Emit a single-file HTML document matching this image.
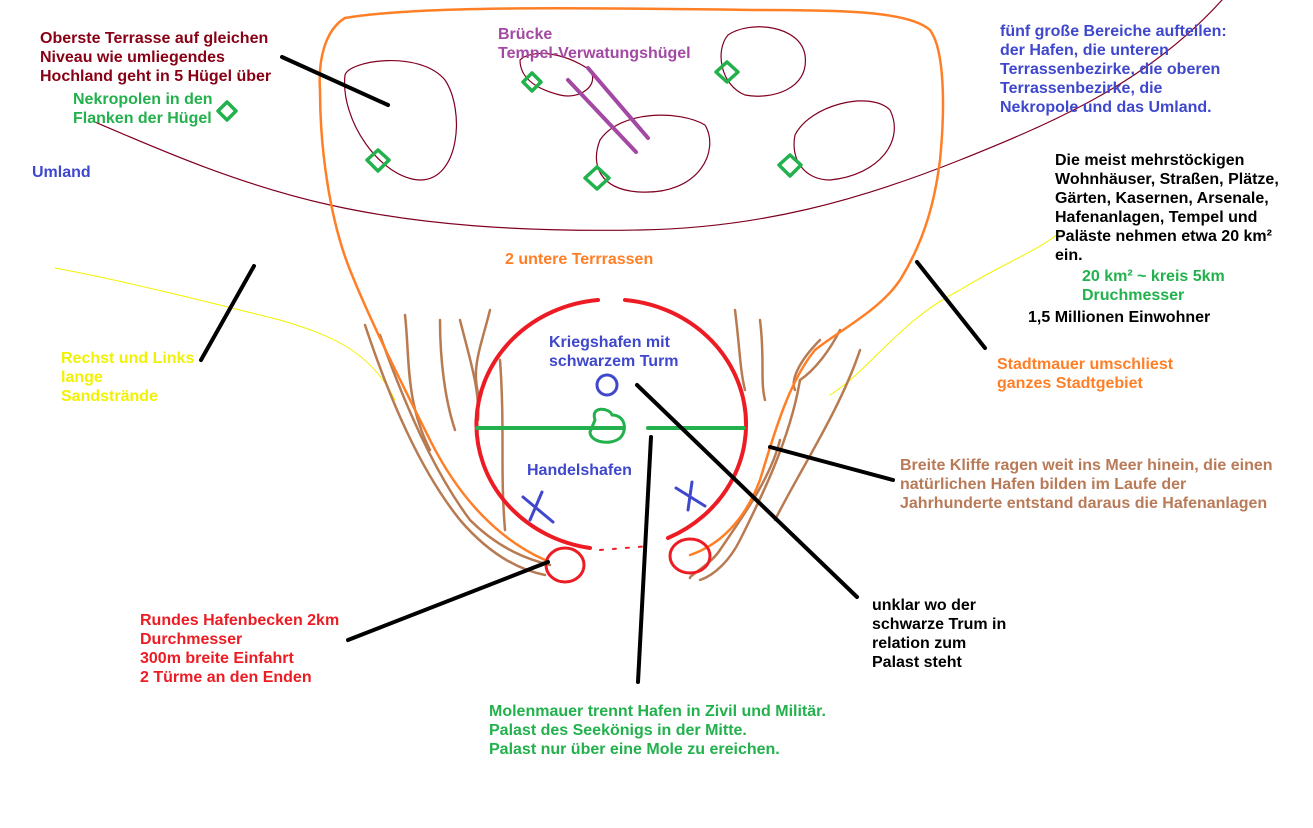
<!DOCTYPE html>
<html><head><meta charset="utf-8"><style>
html,body{margin:0;padding:0;background:#fff;}
#c{position:relative;width:1313px;height:828px;overflow:hidden;}
svg{position:absolute;left:0;top:0;}
.t{position:absolute;font-family:"Liberation Sans",Arial,sans-serif;font-weight:bold;font-size:16px;line-height:19px;white-space:nowrap;}
</style></head><body><div id="c">
<svg width="1313" height="828" viewBox="0 0 1313 828" fill="none" stroke-linecap="round" stroke-linejoin="round">
<path d="M95,122 C160,150 240,185 330,205 C420,225 520,232 640,230 C760,228 860,200 960,160 C1060,120 1150,80 1222,0" stroke="#800020" stroke-width="1.2"/>
<path d="M345,75 C350,60 420,50 445,80 C465,110 460,180 420,180 C380,178 340,120 345,75Z" stroke="#800020" stroke-width="1.2"/>
<path d="M520,60 C530,50 560,50 590,70 C600,85 580,100 560,95 C540,90 520,80 520,60Z" stroke="#800020" stroke-width="1.2"/>
<path d="M600,140 C620,110 680,110 705,125 C720,150 700,195 640,192 C600,190 590,165 600,140Z" stroke="#800020" stroke-width="1.2"/>
<path d="M728,35 C750,20 800,25 805,55 C810,90 770,100 745,95 C720,85 715,50 728,35Z" stroke="#800020" stroke-width="1.2"/>
<path d="M795,135 C810,105 870,90 890,110 C905,140 880,175 830,180 C805,180 790,160 795,135Z" stroke="#800020" stroke-width="1.2"/>
<path d="M55,268 C120,280 200,300 280,320 C330,335 370,350 395,400" stroke="#f2f200" stroke-width="1"/>
<path d="M830,395 C870,370 900,320 960,290 C1000,265 1040,250 1060,232" stroke="#f2f200" stroke-width="1"/>
<g stroke="#b87a50" stroke-width="2.5">
<path d="M365,325 C390,400 420,470 460,520 C490,555 520,570 545,575"/>
<path d="M380,335 C410,420 440,480 470,520 C500,550 530,560 550,565"/>
<path d="M405,315 C410,360 405,400 430,450"/>
<path d="M440,320 C440,360 445,400 455,430"/>
<path d="M460,320 C470,360 480,390 478,420"/>
<path d="M490,310 C480,350 470,370 480,400"/>
<path d="M500,360 C505,430 500,470 505,530"/>
<path d="M735,310 C740,350 740,370 745,390"/>
<path d="M760,320 C765,360 760,380 765,400"/>
<path d="M780,440 C770,480 740,520 720,550 C710,565 690,575 690,578"/>
<path d="M800,380 C790,440 760,500 740,540 C730,560 715,575 700,580"/>
<path d="M820,340 C800,360 790,380 795,390"/>
<path d="M840,330 C830,350 815,370 800,380"/>
<path d="M860,350 C840,410 800,470 775,520"/>
</g>
<path d="M545,560 C500,540 460,500 430,440 C400,380 370,320 350,270 C330,220 320,150 320,90 C318,60 325,30 345,18 C420,5 600,8 760,10 C850,10 910,12 930,30 C945,50 945,110 940,160 C935,200 925,240 900,280 C880,310 840,330 815,350 C790,380 775,430 760,480 C745,520 720,545 690,555" stroke="#ff7f27" stroke-width="2.5"/>
<path d="M598,300 A134,125 0 0,0 590,548" stroke="#ed1c24" stroke-width="4"/>
<path d="M625,300 A134,125 0 0,1 668,538" stroke="#ed1c24" stroke-width="4"/>
<path d="M600,550 L650,546" stroke="#ed1c24" stroke-width="2" stroke-dasharray="3,10"/>
<ellipse cx="565" cy="565" rx="19" ry="17" stroke="#ed1c24" stroke-width="3"/>
<ellipse cx="690" cy="556" rx="20" ry="17" stroke="#ed1c24" stroke-width="3"/>
<path d="M477,428 L622,428 M648,428 L744,428" stroke="#22b14c" stroke-width="4"/>
<path d="M595,420 C590,405 610,408 612,415 C625,415 628,430 620,438 C610,446 590,442 590,432 Z" stroke="#22b14c" stroke-width="3"/>
<circle cx="607" cy="385" r="10" stroke="#3f48cc" stroke-width="3"/>
<path d="M523,497 L553,522 M542,492 L530,520 M676,488 L705,506 M692,482 L688,510" stroke="#3f48cc" stroke-width="3"/>
<path d="M588,68 L648,138 M568,80 L636,152" stroke="#a349a4" stroke-width="4"/>
<g stroke="#22b14c" stroke-width="3.5">
<path d="M227,102 L236,111 L227,120 L218,111Z"/>
<path d="M378,150 L389,160 L378,171 L367,160Z"/>
<path d="M532,73 L541,82 L532,91 L523,82Z"/>
<path d="M597,167 L609,178 L597,189 L585,178Z"/>
<path d="M727,62 L738,72 L727,82 L716,72Z"/>
<path d="M790,155 L801,165 L790,176 L779,165Z"/>
</g>
<g stroke="#000" stroke-width="4">
<path d="M282,57 L388,105"/>
<path d="M254,266 L201,360"/>
<path d="M917,262 L985,348"/>
<path d="M770,447 L893,480"/>
<path d="M637,385 L857,597"/>
<path d="M348,640 L548,562"/>
<path d="M651,437 L638,682"/>
</g>
</svg>
<div class="t" style="left:40px;top:29px;color:#880015">Oberste Terrasse auf gleichen<br>Niveau wie umliegendes<br>Hochland geht in 5 Hügel über</div>
<div class="t" style="left:73px;top:90px;color:#22b14c">Nekropolen in den<br>Flanken der Hügel</div>
<div class="t" style="left:32px;top:163px;color:#3f48cc">Umland</div>
<div class="t" style="left:498px;top:25px;color:#a349a4">Brücke<br>Tempel-Verwatungshügel</div>
<div class="t" style="left:1000px;top:22px;color:#3f48cc">fünf große Bereiche aufteilen:<br>der Hafen, die unteren<br>Terrassenbezirke, die oberen<br>Terrassenbezirke, die<br>Nekropole und das Umland.</div>
<div class="t" style="left:1055px;top:151px;color:#000">Die meist mehrstöckigen<br>Wohnhäuser, Straßen, Plätze,<br>Gärten, Kasernen, Arsenale,<br>Hafenanlagen, Tempel und<br>Paläste nehmen etwa 20 km²<br>ein.</div>
<div class="t" style="left:1082px;top:267px;color:#22b14c">20 km² ~ kreis 5km<br>Druchmesser</div>
<div class="t" style="left:1028px;top:308px;color:#000">1,5 Millionen Einwohner</div>
<div class="t" style="left:505px;top:250px;color:#ff7f27">2 untere Terrrassen</div>
<div class="t" style="left:61px;top:349px;color:#f2f200">Rechst und Links<br>lange<br>Sandstrände</div>
<div class="t" style="left:549px;top:333px;color:#3f48cc">Kriegshafen mit<br>schwarzem Turm</div>
<div class="t" style="left:997px;top:355px;color:#ff7f27">Stadtmauer umschliest<br>ganzes Stadtgebiet</div>
<div class="t" style="left:527px;top:461px;color:#3f48cc">Handelshafen</div>
<div class="t" style="left:900px;top:456px;color:#b97a57">Breite Kliffe ragen weit ins Meer hinein, die einen<br>natürlichen Hafen bilden im Laufe der<br>Jahrhunderte entstand daraus die Hafenanlagen</div>
<div class="t" style="left:872px;top:596px;color:#000">unklar wo der<br>schwarze Trum in<br>relation zum<br>Palast steht</div>
<div class="t" style="left:140px;top:611px;color:#ed1c24">Rundes Hafenbecken 2km<br>Durchmesser<br>300m breite Einfahrt<br>2 Türme an den Enden</div>
<div class="t" style="left:489px;top:702px;color:#22b14c">Molenmauer trennt Hafen in Zivil und Militär.<br>Palast des Seekönigs in der Mitte.<br>Palast nur über eine Mole zu ereichen.</div>
</div></body></html>
